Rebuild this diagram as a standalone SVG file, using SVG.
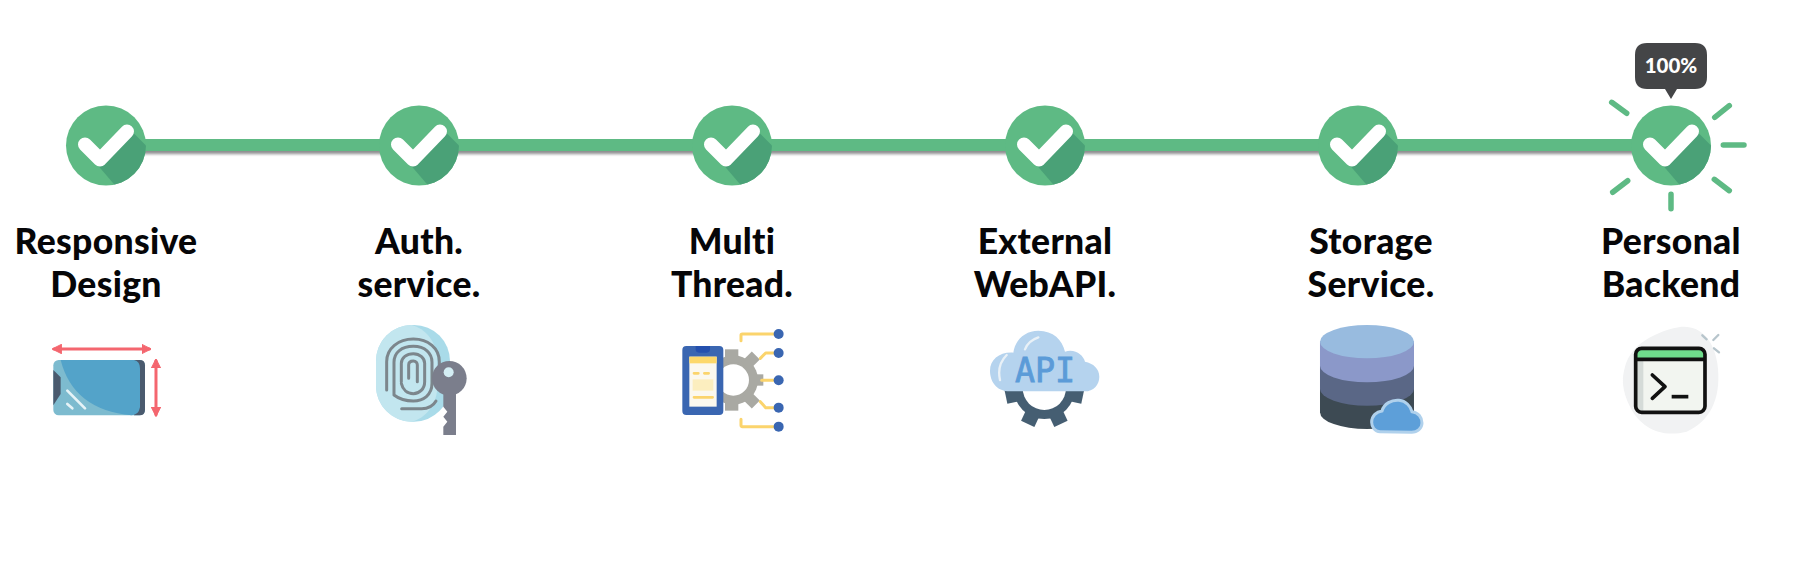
<svg xmlns="http://www.w3.org/2000/svg" width="1805" height="580" viewBox="0 0 1805 580">
<style>
.lab{font-family:Lato,"Noto Sans",sans-serif;font-weight:900;font-size:35.5px;letter-spacing:.3px;fill:#060608;text-anchor:middle}
.tip{font-family:Lato,"Noto Sans",sans-serif;font-weight:900;font-size:20.5px;fill:#fff;text-anchor:middle}
.ray{stroke:#5eba84;stroke-width:5.5;stroke-linecap:round;fill:none}
.s{fill:none;stroke-linecap:round;stroke-linejoin:round}
</style>
<defs>
<filter id="blur" x="-5%" y="-100%" width="110%" height="300%"><feGaussianBlur stdDeviation="1.4"/></filter>
<clipPath id="c"><circle cx="0" cy="0" r="40"/></clipPath>
<g id="check">
<circle r="40" fill="#5eba84"/>
<path clip-path="url(#c)" d="M26 -14 L48 8 L48 48 L16 48 L-8 20Z" fill="#4aa177"/>
<path d="M-21 -1 L-6 14 L21 -14" fill="none" stroke="#fff" stroke-width="14" stroke-linecap="round" stroke-linejoin="round"/>
</g>
<marker id="ah" viewBox="0 0 10 10" refX="8" refY="5" markerWidth="3.2" markerHeight="3.6" orient="auto-start-reverse"><path d="M0 0L10 5L0 10Z" fill="#f4666f" stroke="#f4666f" stroke-linejoin="round"/></marker>
</defs>

<g id="connectors">
<rect x="106" y="143" width="1565" height="11" fill="#8d8d8f" filter="url(#blur)"/>
<rect x="106" y="139" width="1565" height="12" fill="#5eba84"/>
</g>

<g id="node-responsive">
<use href="#check" x="106" y="145.5"/>
<text class="lab" x="106" y="254">Responsive</text>
<text class="lab" x="106" y="297">Design</text>
<g transform="translate(30 320) scale(.3333)">
<rect x="70" y="120" width="275" height="166" rx="16" fill="#7dbbcf"/>
<path d="M312 120H329Q345 120 345 136V270Q345 286 329 286H312Z" fill="#4a5a6e"/>
<path d="M70 150L92 172V222L70 256Z" fill="#4a5a6e"/>
<path d="M92 120H312Q330 124 330 145V262Q326 285 305 286Q130 270 92 120Z" fill="#53a3c9"/>
<path d="M112 212L165 265M112 252L127 265" class="s" stroke="#e6f3f7" stroke-width="8"/>
<path d="M72 87H358" class="s" stroke="#f4666f" stroke-width="9" marker-start="url(#ah)" marker-end="url(#ah)"/>
<path d="M378 122V284" class="s" stroke="#f4666f" stroke-width="9" marker-start="url(#ah)" marker-end="url(#ah)"/>
</g>
</g>

<g id="node-auth">
<use href="#check" x="419" y="145.5"/>
<text class="lab" x="419" y="254">Auth.</text>
<text class="lab" x="419" y="297">service.</text>
<g transform="translate(350 315) scale(.3333)">
<rect x="78" y="30" width="222" height="290" rx="108" fill="#a9dbe9"/>
<path d="M185 30C125 30 78 80 78 138V212C78 270 125 320 185 320C225 310 262 270 262 212V138C262 80 225 40 185 30Z" fill="#c2e6ef"/>
<g class="s" stroke="#7c868c" stroke-width="9">
<path d="M110 225V140C110 100 145 72 190 72C235 72 268 100 268 140V165"/>
<path d="M155 281H215C235 281 250 272 258 258"/>
<path d="M132 240V142C132 112 155 94 190 94C225 94 246 114 246 142V205C246 240 220 258 190 258C165 258 145 250 132 240Z"/>
<path d="M154 200V145C154 128 170 116 190 116C210 116 224 130 224 145V200C224 222 208 236 190 236C172 236 158 224 154 205"/>
<path d="M176 190V150C176 142 182 138 190 138C198 138 202 144 202 150V200"/>
</g>
<circle cx="298" cy="190" r="52" fill="#7b7e8c"/>
<circle cx="296" cy="172" r="15" fill="#d4eef4"/>
<path d="M280 225H318V360H280V335L292 320L280 305L292 290L280 275Z" fill="#7b7e8c"/>
</g>
</g>

<g id="node-multi">
<use href="#check" x="732" y="145.5"/>
<text class="lab" x="732" y="254">Multi</text>
<text class="lab" x="732" y="297">Thread.</text>
<g transform="translate(665 320) scale(.3333)">
<g fill="#a9a9a3">
<circle cx="205" cy="180" r="74"/>
<rect x="180" y="88" width="40" height="40"/>
<rect x="180" y="232" width="40" height="40"/>
<rect x="255" y="163" width="40" height="34"/>
<rect x="240" y="100" width="34" height="44" transform="rotate(45 257 122)"/>
<rect x="240" y="216" width="34" height="44" transform="rotate(-45 257 238)"/>
</g>
<circle cx="205" cy="180" r="47" fill="#fff"/>
<rect x="52" y="78" width="123" height="207" rx="12" fill="#3a66b1"/>
<path d="M92 78H135V88Q135 98 125 98H102Q92 98 92 88Z" fill="#2450ae"/>
<rect x="73" y="110" width="82" height="150" fill="#fbf8ee"/>
<rect x="73" y="110" width="82" height="20" fill="#fdd86a"/>
<rect x="83" y="178" width="62" height="34" fill="#fceebf"/>
<path d="M87 160H100M118 160H131M87 232H143" class="s" stroke="#fbd46c" stroke-width="8"/>
<path d="M228 62V46Q228 42 232 42H330M286 115L302 99H330M290 181H330M286 245L302 263H330M228 298V316Q228 320 232 320H330" class="s" stroke="#fbd46c" stroke-width="9"/>
<g fill="#3a66b1">
<circle cx="341" cy="42" r="15"/><circle cx="341" cy="99" r="15"/><circle cx="341" cy="181" r="15"/><circle cx="341" cy="263" r="15"/><circle cx="341" cy="320" r="15"/>
</g>
</g>
</g>

<g id="node-external">
<use href="#check" x="1045" y="145.5"/>
<text class="lab" x="1045" y="254">External</text>
<text class="lab" x="1045" y="297">WebAPI.</text>
<g transform="translate(975 320) scale(.3333)">
<g fill="#455e72">
<circle cx="208" cy="205" r="92"/>
<rect x="-22" y="68" width="44" height="50" transform="translate(208 205) rotate(78)"/>
<rect x="-22" y="68" width="44" height="50" transform="translate(208 205) rotate(25)"/>
<rect x="-22" y="68" width="44" height="50" transform="translate(208 205) rotate(-25)"/>
<rect x="-22" y="68" width="44" height="50" transform="translate(208 205) rotate(-78)"/>
</g>
<circle cx="208" cy="205" r="65" fill="#fff"/>
<path d="M105 214C62 214 45 182 45 152C45 118 75 95 115 98C120 60 150 32 190 32C235 32 262 60 270 95C300 85 325 105 330 125C355 130 373 146 373 170C373 195 355 214 330 214Z" fill="#b5d3ee"/>
<path d="M150 88Q160 62 190 52M75 180Q65 135 95 105" class="s" stroke="#e9f1f7" stroke-width="7"/>
<text x="210" y="185" font-family="'DejaVu Sans Mono',monospace" font-size="100" fill="#5b9bd8" stroke="#5b9bd8" stroke-width="2.5" text-anchor="middle">API</text>
</g>
</g>

<g id="node-storage">
<use href="#check" x="1358" y="145.5"/>
<text class="lab" x="1371" y="254">Storage</text>
<text class="lab" x="1371" y="297">Service.</text>
<g transform="translate(1300 315) scale(.3333)">
<path d="M60 80V292A141 50 0 0 0 342 292V80Z" fill="#3d4a53"/>
<path d="M60 80V222A141 50 0 0 0 342 222V80Z" fill="#5a6786"/>
<path d="M60 80V152A141 50 0 0 0 342 152V80Z" fill="#8b98c9"/>
<ellipse cx="201" cy="80" rx="141" ry="50" fill="#98bbdf"/>
<path d="M240 350C224 350 215 335 215 322C215 302 230 290 246 288C252 266 275 254 297 256C318 258 332 274 336 290C355 292 366 308 366 324C366 340 352 352 335 352Z" fill="#5d9fd9" stroke="#b0d1ec" stroke-width="9"/>
</g>
</g>

<g id="node-personal">
<g id="rays">
<path class="ray" d="M1611.7 102.3L1626.7 113.3M1729.3 105.7L1714.7 117.3M1723.3 145H1744M1714.3 179.3L1729.3 190.7M1671 194.3V208.7M1627.7 180.7L1612.7 192.3"/>
</g>
<use href="#check" x="1671" y="145.5"/>
<g id="tooltip">
<path d="M1647 43H1695Q1707 43 1707 55V77Q1707 89 1695 89H1677L1671 99L1665 89H1647Q1635 89 1635 77V55Q1635 43 1647 43Z" fill="#444547"/>
<text class="tip" x="1671" y="72.5">100%</text>
</g>
<text class="lab" x="1671" y="254">Personal</text>
<text class="lab" x="1671" y="297">Backend</text>
<g transform="translate(1610 320) scale(.3333)">
<path d="M45 140C60 90 100 50 190 25C260 5 310 50 322 130C335 220 310 300 230 335C150 355 90 320 60 260C35 210 35 175 45 140Z" fill="#f1f2f3"/>
<path d="M277 46L290 58M310 60L325 45M312 85L327 97" class="s" stroke="#b7c5cc" stroke-width="7"/>
<rect x="77" y="85" width="208" height="192" rx="18" fill="#f2f5f0"/>
<path d="M80 118H100V274H95Q80 274 80 262Z" fill="#d5dbd8"/>
<path d="M77 118V103Q77 85 95 85H267Q285 85 285 103V118Z" fill="#6fdc8c"/>
<rect x="77" y="85" width="208" height="192" rx="18" fill="none" stroke="#111" stroke-width="11"/>
<path d="M77 118H285" stroke="#111" stroke-width="11"/>
<path d="M127 165L165 200L127 235" class="s" stroke="#111" stroke-width="11"/>
<path d="M185 230H235" stroke="#111" stroke-width="11"/>
</g>
</g>
</svg>
